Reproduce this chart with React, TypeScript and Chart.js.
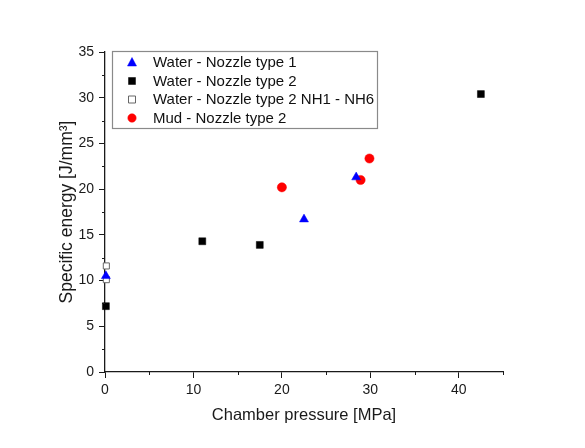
import React, { useEffect, useRef } from "react";
import { Chart, registerables } from "chart.js";

Chart.register(...registerables);

// Data
const waterType1X = [0.1, 22.5, 28.4];
const waterType1Y = [10.5, 16.7, 21.3];

const waterType2X = [0.1, 11.0, 17.5, 42.5];
const waterType2Y = [7.2, 14.3, 13.9, 30.4];

const waterNHX = [0.15, 0.15];
const waterNHY = [11.6, 10.1];

const mudType2X = [20.0, 28.9, 29.9];
const mudType2Y = [20.2, 21.0, 23.35];

const seriesLabels = [
  "Water - Nozzle type 1",
  "Water - Nozzle type 2",
  "Water - Nozzle type 2 NH1 - NH6",
  "Mud - Nozzle type 2",
];

const xTitle = "Chamber pressure [MPa]";
const yTitle = "Specific energy [J/mm³]";

const xMin = 0, xMax = 45, xMajor = 10, xMinor = 5;
const yMin = 0, yMax = 35, yMajor = 5, yMinor = 2.5;

const FONT = "'Liberation Sans', Arial, sans-serif";
const AXIS_COLOR = "#1a1a1a";

function toPoints(xs: number[], ys: number[]) {
  return xs.map((x, i) => ({ x, y: ys[i] }));
}

const minorTicksPlugin = {
  id: "minorTicks",
  afterDraw(chart: any) {
    const ctx = chart.ctx;
    const xs = chart.scales.x;
    const ys = chart.scales.y;
    const area = chart.chartArea;
    ctx.save();
    ctx.strokeStyle = AXIS_COLOR;
    ctx.lineWidth = 1;
    ctx.beginPath();
    for (let v = xMin + xMinor; v < xMax + 1e-9; v += xMajor) {
      const px = Math.round(xs.getPixelForValue(v)) + 0.5;
      ctx.moveTo(px, area.bottom);
      ctx.lineTo(px, area.bottom + 3);
    }
    for (let v = yMin + yMinor; v < yMax; v += yMajor) {
      const py = Math.round(ys.getPixelForValue(v)) + 0.5;
      ctx.moveTo(area.left, py);
      ctx.lineTo(area.left - 3, py);
    }
    ctx.stroke();
    ctx.restore();
  },
};

const boxLegendPlugin = {
  id: "boxLegend",
  afterDraw(chart: any) {
    const ctx = chart.ctx;
    const area = chart.chartArea;
    const bx = area.left + 7;
    const by = area.top - 1;
    const bw = 265;
    const bh = 77;
    ctx.save();
    ctx.fillStyle = "#ffffff";
    ctx.fillRect(bx, by, bw, bh);
    ctx.strokeStyle = "#8a8a8a";
    ctx.lineWidth = 1.2;
    ctx.strokeRect(bx + 0.5, by + 0.5, bw, bh);
    ctx.font = `15px ${FONT}`;
    ctx.textBaseline = "middle";
    ctx.textAlign = "left";
    const datasets = chart.data.datasets;
    datasets.forEach((ds: any, i: number) => {
      const cy = by + 11.5 + i * 18.5;
      const mx = bx + 20;
      ctx.beginPath();
      ctx.fillStyle = ds.backgroundColor;
      ctx.strokeStyle = ds.borderColor;
      ctx.lineWidth = ds.borderWidth;
      if (ds.pointStyle === "triangle") {
        ctx.moveTo(mx, cy - 5);
        ctx.lineTo(mx + 4.5, cy + 3.5);
        ctx.lineTo(mx - 4.5, cy + 3.5);
        ctx.closePath();
      } else if (ds.pointStyle === "rect") {
        ctx.rect(mx - 3.5, cy - 3.5, 7, 7);
      } else {
        ctx.arc(mx, cy, 4.2, 0, Math.PI * 2);
      }
      ctx.fill();
      if (ds.borderWidth > 0) ctx.stroke();
      ctx.fillStyle = "#111111";
      ctx.fillText(ds.label, bx + 41, cy + 0.5);
    });
    ctx.restore();
  },
};

export default function App() {
  const canvasRef = useRef<HTMLCanvasElement | null>(null);

  useEffect(() => {
    document.body.style.margin = "0";
    const canvas = canvasRef.current;
    if (!canvas) return;
    const chart = new Chart(canvas, {
      type: "scatter",
      data: {
        datasets: [
          {
            label: seriesLabels[0],
            data: toPoints(waterType1X, waterType1Y),
            pointStyle: "triangle",
            pointRadius: 5.2,
            backgroundColor: "#0000ff",
            borderColor: "#0000ff",
            borderWidth: 0.5,
            clip: false,
          },
          {
            label: seriesLabels[1],
            data: toPoints(waterType2X, waterType2Y),
            pointStyle: "rect",
            pointRadius: 4.9,
            backgroundColor: "#000000",
            borderColor: "#000000",
            borderWidth: 0.5,
            clip: false,
          },
          {
            label: seriesLabels[2],
            data: toPoints(waterNHX, waterNHY),
            pointStyle: "rect",
            pointRadius: 4.3,
            backgroundColor: "#ffffff",
            borderColor: "#666666",
            borderWidth: 1,
            clip: false,
          },
          {
            label: seriesLabels[3],
            data: toPoints(mudType2X, mudType2Y),
            pointStyle: "circle",
            pointRadius: 4.6,
            backgroundColor: "#ff0000",
            borderColor: "#ff0000",
            borderWidth: 0.5,
            clip: false,
          },
        ] as any,
      },
      options: {
        animation: false,
        responsive: false,
        devicePixelRatio: 1,
        layout: { padding: { left: 0, top: 52, right: 82, bottom: 0 } },
        plugins: {
          legend: { display: false },
          tooltip: { enabled: false },
        },
        scales: {
          x: {
            type: "linear",
            min: xMin,
            max: xMax,
            afterFit: (s: any) => {
              s.height = 76;
            },
            ticks: {
              stepSize: xMajor,
              includeBounds: false,
              padding: 4,
              color: AXIS_COLOR,
              font: { family: FONT, size: 14 },
              maxRotation: 0,
            },
            grid: {
              display: true,
              drawOnChartArea: false,
              drawTicks: true,
              tickLength: 6,
              color: AXIS_COLOR,
              tickColor: AXIS_COLOR,
              lineWidth: 1,
            },
            border: { display: true, color: AXIS_COLOR, width: 1.3 },
            title: {
              display: true,
              text: xTitle,
              color: AXIS_COLOR,
              font: { family: FONT, size: 16.5 },
              padding: { top: 0, bottom: 23 },
            },
          },
          y: {
            type: "linear",
            min: yMin,
            max: yMax,
            afterFit: (s: any) => {
              s.width = 105;
            },
            ticks: {
              stepSize: yMajor,
              includeBounds: false,
              padding: 5,
              color: AXIS_COLOR,
              font: { family: FONT, size: 14 },
            },
            grid: {
              display: true,
              drawOnChartArea: false,
              drawTicks: true,
              tickLength: 6,
              color: AXIS_COLOR,
              tickColor: AXIS_COLOR,
              lineWidth: 1,
            },
            border: { display: true, color: AXIS_COLOR, width: 1.3 },
            title: {
              display: true,
              text: yTitle,
              color: AXIS_COLOR,
              font: { family: FONT, size: 17.5 },
              padding: { top: 57, bottom: 0 },
            },
          },
        },
      } as any,
      plugins: [minorTicksPlugin, boxLegendPlugin],
    });
    return () => {
      chart.destroy();
    };
  }, []);

  return (
    <div style={{ width: 585, height: 448, background: "#ffffff" }}>
      <canvas ref={canvasRef} width={585} height={448} style={{ display: "block" }} />
    </div>
  );
}
